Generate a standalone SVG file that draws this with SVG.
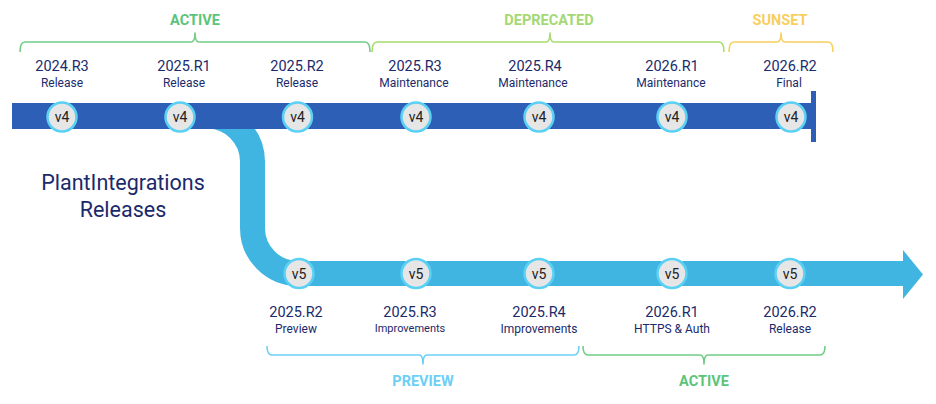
<svg xmlns="http://www.w3.org/2000/svg" width="936" height="404" viewBox="0 0 936 404">
<style>
text{font-family:Roboto,"Liberation Sans",sans-serif;text-anchor:middle}
.ver{font-size:14.5px;fill:#1b2a6b}
.sub{font-size:12px;fill:#1b2a6b}
.sub2{font-size:11px;fill:#1b2a6b}
.phase{font-size:14.5px;font-weight:bold}
.br{fill:none;stroke-width:1.6;stroke-linejoin:round}
.dot circle{fill:#e6e6e6;stroke:#5ad0f4;stroke-width:2.5}
.dot text{font-size:14px;fill:#222}
</style>
<rect width="936" height="404" fill="#fff"/>
<g id="connectors">
<path d="M195 116 H207 A45.5 45.5 0 0 1 252.5 161.5 V228 A45.5 45.5 0 0 0 298 273.5 H905" fill="none" stroke="#41b5e1" stroke-width="25"/>
<polygon points="903,250 923,274.5 903,299" fill="#41b5e1"/>
<rect x="12" y="103" width="800" height="26" fill="#2c5fb5"/>
<rect x="811" y="91" width="5" height="51" fill="#2c5fb5"/>
</g>
<g id="title"><text x="123" y="190" style="font-size:21.5px;fill:#1b2a6b">PlantIntegrations</text><text x="123" y="217" style="font-size:21.5px;fill:#1b2a6b">Releases</text></g>
<g id="phase-active-v4"><path class="br" stroke="#72cc86" d="M20 52 Q20 42 25 42 H191 Q195 42 195 33 Q195 42 199 42 H365 Q370 42 370 52"/><text class="phase" x="195" y="25" fill="#5cc47a">ACTIVE</text></g>
<g id="phase-deprecated"><path class="br" stroke="#a8dc6e" d="M372 52 Q372 42 377 42 H546 Q550 42 550 33 Q550 42 554 42 H719 Q724 42 724 52"/><text class="phase" x="549" y="25" fill="#a4d874">DEPRECATED</text></g>
<g id="phase-sunset"><path class="br" stroke="#f7d060" d="M729 52 Q729 42 734 42 H777 Q781 42 781 33 Q781 42 785 42 H828 Q833 42 833 52"/><text class="phase" x="780" y="25" fill="#f7cf5e">SUNSET</text></g>
<g id="phase-preview"><path class="br" stroke="#6ccff6" d="M267 346 Q267 355 272 355 H419 Q423 355 423 364 Q423 355 427 355 H574 Q579 355 579 346"/><text class="phase" x="423" y="386" fill="#6ccff6">PREVIEW</text></g>
<g id="phase-active-v5"><path class="br" stroke="#72cc86" d="M583 346 Q583 355 588 355 H700 Q704 355 704 364 Q704 355 708 355 H820 Q825 355 825 346"/><text class="phase" x="704" y="386" fill="#5cc47a">ACTIVE</text></g>
<g id="r-2024-R3"><text class="ver" x="62" y="71">2024.R3</text><text class="sub" x="62" y="86.5">Release</text><g class="dot"><circle cx="62" cy="117" r="14.5"/><text x="62" y="122">v4</text></g></g>
<g id="r-2025-R1"><text class="ver" x="184" y="71">2025.R1</text><text class="sub" x="184" y="86.5">Release</text><g class="dot"><circle cx="180" cy="117" r="14.5"/><text x="180" y="122">v4</text></g></g>
<g id="r-2025-R2"><text class="ver" x="297" y="71">2025.R2</text><text class="sub" x="297" y="86.5">Release</text><g class="dot"><circle cx="297.5" cy="117" r="14.5"/><text x="297.5" y="122">v4</text></g></g>
<g id="r-2025-R3"><text class="ver" x="415" y="71">2025.R3</text><text class="sub" x="414" y="86.5">Maintenance</text><g class="dot"><circle cx="416" cy="117" r="14.5"/><text x="416" y="122">v4</text></g></g>
<g id="r-2025-R4"><text class="ver" x="535" y="71">2025.R4</text><text class="sub" x="533" y="86.5">Maintenance</text><g class="dot"><circle cx="539" cy="117" r="14.5"/><text x="539" y="122">v4</text></g></g>
<g id="r-2026-R1"><text class="ver" x="672" y="71">2026.R1</text><text class="sub" x="671" y="86.5">Maintenance</text><g class="dot"><circle cx="672" cy="117" r="14.5"/><text x="672" y="122">v4</text></g></g>
<g id="r-2026-R2"><text class="ver" x="790" y="71">2026.R2</text><text class="sub" x="789" y="86.5">Final</text><g class="dot"><circle cx="791" cy="117" r="14.5"/><text x="791" y="122">v4</text></g></g>
<g id="v5-2025-R2"><g class="dot"><circle cx="299" cy="273.5" r="14.5"/><text x="299" y="278.5">v5</text></g><text class="ver" x="296" y="317">2025.R2</text><text class="sub" x="296" y="332.5">Preview</text></g>
<g id="v5-2025-R3"><g class="dot"><circle cx="416" cy="273.5" r="14.5"/><text x="416" y="278.5">v5</text></g><text class="ver" x="410" y="317">2025.R3</text><text class="sub2" x="410" y="331.5">Improvements</text></g>
<g id="v5-2025-R4"><g class="dot"><circle cx="539" cy="273.5" r="14.5"/><text x="539" y="278.5">v5</text></g><text class="ver" x="539" y="317">2025.R4</text><text class="sub" x="539" y="332.5">Improvements</text></g>
<g id="v5-2026-R1"><g class="dot"><circle cx="672" cy="273.5" r="14.5"/><text x="672" y="278.5">v5</text></g><text class="ver" x="672" y="317">2026.R1</text><text class="sub" x="672" y="332.5">HTTPS &amp; Auth</text></g>
<g id="v5-2026-R2"><g class="dot"><circle cx="790" cy="273.5" r="14.5"/><text x="790" y="278.5">v5</text></g><text class="ver" x="790" y="317">2026.R2</text><text class="sub" x="790" y="332.5">Release</text></g>
</svg>
